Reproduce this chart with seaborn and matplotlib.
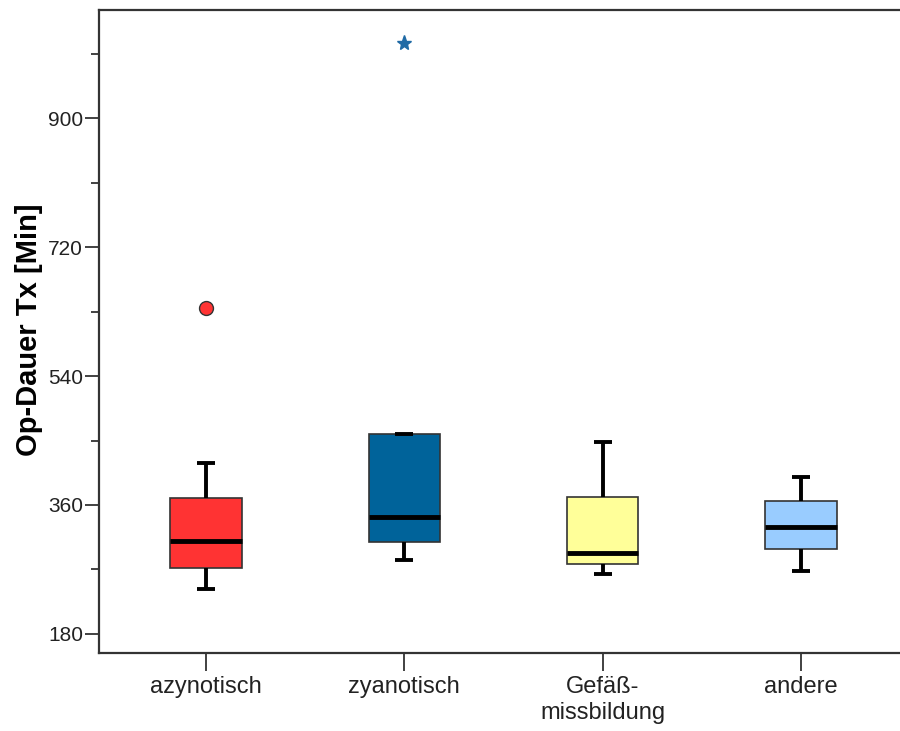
import numpy as np
import pandas as pd
import matplotlib
matplotlib.use("Agg")
import matplotlib.pyplot as plt
from matplotlib.ticker import FixedLocator
import seaborn as sns

# ------ Daten (aus der Grafik geschätzt) ------ #
gruppen = ["azynotisch", "zyanotisch", "Gefäß-\nmissbildung", "andere"]
farben = ["#FF3333", "#00639A", "#FFFF99", "#99CCFF"]

op_azynotisch = [243, 260, 272, 290, 310, 340, 370, 419, 635]
op_zyanotisch = [283, 295, 308, 330, 343, 400, 459, 459, 1005]
op_gefaess = [264, 270, 278, 285, 293, 330, 371, 410, 448]
op_andere = [268, 285, 299, 315, 329, 345, 365, 380, 399]

werte = [op_azynotisch, op_zyanotisch, op_gefaess, op_andere]
df = pd.DataFrame({
    "Gruppe": np.repeat(gruppen, [len(w) for w in werte]),
    "Dauer": np.concatenate(werte),
})

# ------ Plot ------ #
sns.set_style("ticks")
plt.rcParams["font.family"] = ["Liberation Sans", "DejaVu Sans"]

fig = plt.figure(figsize=(9, 7.31), dpi=100)
ax = fig.add_axes([0.11, 0.107, 0.89, 0.879])

sns.boxplot(data=df, x="Gruppe", y="Dauer", hue="Gruppe", order=gruppen,
            hue_order=gruppen, palette=farben, saturation=1, width=0.36,
            legend=False, ax=ax,
            boxprops=dict(edgecolor="#333333", linewidth=1.2),
            whiskerprops=dict(color="black", linewidth=2.8),
            capprops=dict(color="black", linewidth=2.8),
            medianprops=dict(color="black", linewidth=3.5),
            flierprops=dict(marker="o", markersize=10, markerfacecolor="#FF3333",
                            markeredgecolor="#333333", markeredgewidth=1))

# Caps schmaler machen, Extremwert als Stern (SPSS-Stil)
for ln in ax.lines:
    x = np.asarray(ln.get_xdata(), dtype=float)
    y = np.asarray(ln.get_ydata(), dtype=float)
    if ln.get_linestyle() == "None":
        if len(x) and abs(x.mean() - 1) < 0.2:
            ln.set_marker("*")
            ln.set_markersize(11)
            ln.set_markerfacecolor("#1F6AA5")
            ln.set_markeredgecolor("#1F6AA5")
        continue
    if len(y) == 2 and y[0] == y[1] and abs(x[1] - x[0]) > 0 and abs(abs(x[1] - x[0]) - 0.36) > 0.01:
        c = x.mean()
        ln.set_xdata([c - 0.045, c + 0.045])
        ln.set_solid_capstyle("butt")

ax.set_xlim(-0.54, 3.5)
ax.set_ylim(153.5, 1051)
ax.yaxis.set_major_locator(FixedLocator([180, 360, 540, 720, 900]))
ax.yaxis.set_minor_locator(FixedLocator([270, 450, 630, 810, 990]))
ax.tick_params(axis="y", which="major", length=10, width=1.3, labelsize=15,
               colors="#333333", labelcolor="#222222", pad=1.5)
ax.tick_params(axis="y", which="minor", length=6, width=1.3, colors="#333333")
ax.tick_params(axis="x", length=13, width=1.3, labelsize=17, colors="#333333",
               labelcolor="#222222", pad=4)

ax.set_xlabel("")
ax.set_ylabel("Op-Dauer Tx [Min]", fontsize=21, fontweight="bold", color="black")
ax.yaxis.set_label_coords(-0.070, 0.503)
for s in ["left", "bottom", "top"]:
    ax.spines[s].set_linewidth(1.6)
    ax.spines[s].set_color("#333333")
ax.spines["right"].set_visible(False)

fig.savefig("out.png", dpi=100)
